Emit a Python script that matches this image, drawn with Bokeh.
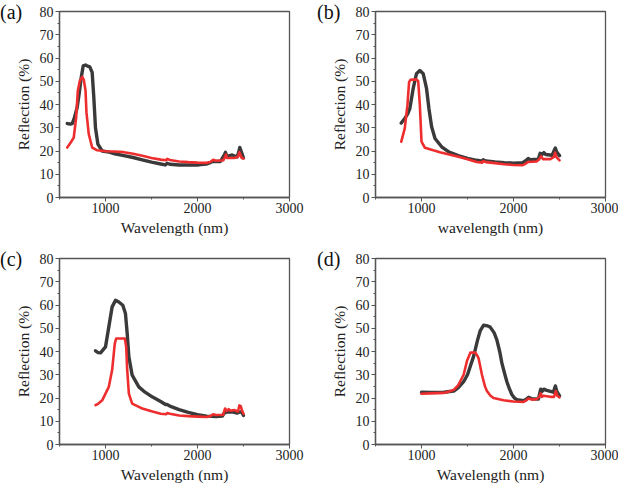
from bokeh.plotting import figure
from bokeh.models import Range1d, FixedTicker, Div, GridBox
from bokeh.embed import file_html
from bokeh.resources import INLINE

# ---------------- data ----------------
a_black_wl = [584, 620, 638, 660, 692, 715, 736, 758, 783, 805, 829, 855, 873, 891, 917, 964, 1040,
              1100, 1200, 1300, 1400, 1500, 1600, 1650, 1670, 1700, 1800, 1900, 2000, 2033, 2100,
              2140, 2160, 2250, 2286, 2304, 2320, 2340, 2377, 2430, 2448, 2460, 2485, 2500]
a_black_r = [31.8, 31.6, 31.8, 34, 38.7, 45, 51.6, 56.6, 57, 56.5, 56.2, 53.8, 43, 30, 23, 20, 19.5,
             18.8, 18, 17.2, 16.2, 15.2, 14.4, 14, 14.7, 14.3, 14, 14, 14, 14.2, 14.4,
             15, 15.5, 15.5, 17.9, 19.4, 17.5, 17.9, 18.3, 17.4, 19.5, 21.5, 18.7, 17]

a_red_wl = [584, 620, 655, 681, 699, 721, 747, 765, 783, 793, 818, 855, 910, 1000, 1100, 1200, 1300,
            1400, 1500, 1600, 1660, 1670, 1700, 1800, 1900, 2000, 2100, 2140, 2170, 2200, 2280,
            2300, 2310, 2320, 2400, 2440, 2455, 2465, 2480, 2500]
a_red_r = [21.5, 23.5, 25.8, 34.4, 45.9, 50.2, 51.9, 50.5, 45.9, 36.6, 27.3, 21.5, 20.3, 19.9, 19.8, 19.5, 18.8,
           18, 17, 16.3, 16, 16.6, 16.1, 15.5, 15.2, 15, 14.9, 15.3, 16.2, 15.8, 16,
           17.5, 18.5, 17, 17, 17.5, 19.5, 18.5, 17, 16.8]

b_black_wl = [780, 818, 850, 873, 909, 945, 982, 1019, 1055, 1081, 1110, 1147, 1219, 1300, 1400, 1500,
              1600, 1660, 1670, 1700, 1800, 1900, 2000, 2100, 2140, 2160, 2180, 2270, 2290, 2310,
              2330, 2350, 2420, 2445, 2455, 2470, 2500]
b_black_r = [32, 34, 36, 38.2, 46.8, 53.2, 54.6, 53.2, 46.8, 38.2, 30.4, 25.4, 21.8, 19.5, 18, 16.8,
             16, 15.6, 16.2, 15.7, 15.3, 15, 14.8, 15, 16, 16.8, 16.3, 16.5, 19, 18.5,
             19.3, 18.5, 18.2, 20.5, 21.3, 19.5, 18]

b_red_wl = [780, 818, 847, 865, 880, 945, 964, 982, 1000, 1037, 1128, 1200, 1300, 1400, 1500, 1600,
            1660, 1670, 1700, 1800, 1900, 2000, 2100, 2130, 2160, 2250, 2280, 2300, 2320, 2400,
            2440, 2452, 2465, 2500]
b_red_r = [24, 29.7, 39.7, 49.6, 50.6, 50.8, 50, 39.7, 24, 21.4, 20.3, 19.5, 18.5, 17.5, 16.5, 15.3,
           15, 15.7, 15.2, 14.8, 14.3, 14, 13.9, 14.5, 15.3, 15.5, 16.5, 17.8, 16.5, 16.5,
           17.5, 19.3, 17.5, 16]

c_black_wl = [891, 920, 946, 1000, 1036, 1072, 1109, 1145, 1188, 1217, 1236, 1254, 1290, 1362, 1430,
              1507, 1600, 1652, 1670, 1700, 1800, 1900, 2000, 2100, 2200, 2270, 2290, 2320, 2380,
              2430, 2460, 2480, 2500]
c_black_r = [40.3, 39.5, 39.4, 42, 50.6, 59.2, 62, 61.3, 59.9, 56.3, 47.7, 37.7, 29.8, 24.8, 22.5,
             20.5, 18.5, 17.2, 17.2, 16.5, 15, 13.8, 12.8, 12.2, 12, 12.2, 13.5, 14, 14,
             13.5, 14, 14, 12.5]

c_red_wl = [891, 920, 964, 1036, 1072, 1101, 1116, 1210, 1225, 1236, 1254, 1290, 1362, 1400, 1500,
            1600, 1660, 1670, 1700, 1800, 1900, 2000, 2100, 2140, 2170, 2200, 2280, 2300, 2320,
            2340, 2360, 2400, 2440, 2455, 2470, 2485, 2500]
c_red_r = [16.9, 17.5, 19, 24.8, 32, 43.4, 45.6, 45.6, 42, 32, 21.9, 17.6, 16.2, 15.5, 14.3,
           13.2, 13, 13.5, 13.2, 12.5, 12.2, 12, 11.8, 12.2, 13, 12.7, 12.8, 15.5, 14.5,
           15.2, 14.5, 14.8, 14.2, 16.8, 16.5, 14.5, 13.2]

d_black_wl = [1000, 1100, 1242, 1350, 1400, 1458, 1500, 1567, 1610, 1639, 1675, 1720, 1747, 1790,
              1819, 1850, 1874, 1900, 1928, 1955, 1982, 2010, 2036, 2108, 2140, 2165, 2200, 2271,
              2285, 2296, 2310, 2330, 2361, 2433, 2455, 2470, 2491, 2500]
d_black_r = [22.5, 22.4, 22.5, 23, 24.5, 27, 30, 38, 45, 49, 51.3, 51, 50.5, 48,
             45, 40, 35, 31, 27, 24, 21.5, 20, 19.3, 18.8, 19.5, 20.3, 19.7, 19.5,
             22, 23.8, 22.8, 23.8, 23.3, 22.5, 25.2, 23, 21.5, 21]

d_red_wl = [1000, 1100, 1242, 1300, 1350, 1400, 1458, 1495, 1531, 1585, 1610, 1621, 1657, 1690, 1711,
            1750, 1783, 1892, 2000, 2108, 2140, 2162, 2200, 2253, 2280, 2296, 2310, 2325, 2400,
            2440, 2460, 2475, 2491, 2500]
d_red_r = [21.8, 22, 22.2, 22.8, 23.5, 25.5, 30, 36, 39.5, 39.5, 38, 37, 30, 25, 23,
           21, 20, 19, 18.5, 18.3, 19, 19.8, 19.3, 19.5, 20.5, 22, 20.5, 21, 20.5,
           20.5, 23, 21, 20.5, 20.3]

panel_labels = ["(a)", "(b)", "(c)", "(d)"]
x_labels = ["Wavelength (nm)", "wavelength (nm)", "Wavelength (nm)", "Wavelength (nm)"]
y_label = "Reflection (%)"
y_ticks = [0, 10, 20, 30, 40, 50, 60, 70, 80]
y_minor = [5, 15, 25, 35, 45, 55, 65, 75]
x_ticks = [1000, 2000, 3000]
x_minor = [500, 1500, 2500]

FONT = "'Liberation Serif', 'DejaVu Serif', serif"
BLACK = "#3a3a3a"
RED = "#ee2e2e"
FRAME = "#555555"


def make_panel(xlab, bwl, br, rwl, rr, width, height, bl, brt, bt, bb):
    p = figure(width=width, height=height, output_backend="svg", toolbar_location=None,
               x_range=Range1d(500, 3000), y_range=Range1d(0, 80),
               min_border_left=bl, min_border_right=brt, min_border_top=bt, min_border_bottom=bb)
    p.grid.visible = False
    p.outline_line_color = FRAME
    p.outline_line_width = 1.3
    p.background_fill_color = "white"
    p.border_fill_color = "white"

    p.line(bwl, br, line_color=BLACK, line_width=3.4, line_join="round", line_cap="round")
    p.line(rwl, rr, line_color=RED, line_width=2.6, line_join="round", line_cap="round")

    p.xaxis.ticker = FixedTicker(ticks=x_ticks, minor_ticks=x_minor)
    p.yaxis.ticker = FixedTicker(ticks=y_ticks, minor_ticks=y_minor)
    for ax in (p.xaxis[0], p.yaxis[0]):
        ax.axis_line_color = FRAME
        ax.axis_line_width = 1.3
        ax.major_tick_line_color = FRAME
        ax.minor_tick_line_color = FRAME
        ax.major_tick_in = 0
        ax.major_tick_out = 4
        ax.minor_tick_in = 0
        ax.minor_tick_out = 2
        ax.major_label_text_font = FONT
        ax.major_label_text_font_size = "14px"
        ax.major_label_text_color = "#222222"
        ax.axis_label_text_font = FONT
        ax.axis_label_text_font_size = "15.5px"
        ax.axis_label_text_font_style = "normal"
        ax.axis_label_text_color = "#222222"
    p.xaxis.axis_label = xlab
    p.yaxis.axis_label = y_label
    p.xaxis.major_label_standoff = 1
    p.xaxis.axis_label_standoff = 3
    p.yaxis.major_label_standoff = 2
    p.yaxis.axis_label_standoff = 5
    return p


def letter(text, left, top):
    return Div(text=text, width=30, height=24, margin=(top, 0, 0, left),
               styles={"font-family": FONT, "font-size": "20px", "line-height": "20px",
                       "color": "#111111", "pointer-events": "none"})


W1, W2 = 309, 309
H1, H2 = 246, 239

pa = make_panel(x_labels[0], a_black_wl, a_black_r, a_red_wl, a_red_r, W1, H1, 59, 20, 11, 49)
pb = make_panel(x_labels[1], b_black_wl, b_black_r, b_red_wl, b_red_r, W2, H1, 66, 13, 11, 49)
pc = make_panel(x_labels[2], c_black_wl, c_black_r, c_red_wl, c_red_r, W1, H2, 59, 20, 12, 41)
pd = make_panel(x_labels[3], d_black_wl, d_black_r, d_red_wl, d_red_r, W2, H2, 66, 13, 12, 41)

la = letter(panel_labels[0], 0, 2)
lb = letter(panel_labels[1], 8, 2)
lc = letter(panel_labels[2], 0, 3)
ld = letter(panel_labels[3], 8, 3)

layout = GridBox(children=[(pa, 0, 0), (pb, 0, 1), (pc, 1, 0), (pd, 1, 1),
                           (la, 0, 0), (lb, 0, 1), (lc, 1, 0), (ld, 1, 1)],
                 spacing=0)

open("out.html", "w").write(file_html(layout, INLINE))
